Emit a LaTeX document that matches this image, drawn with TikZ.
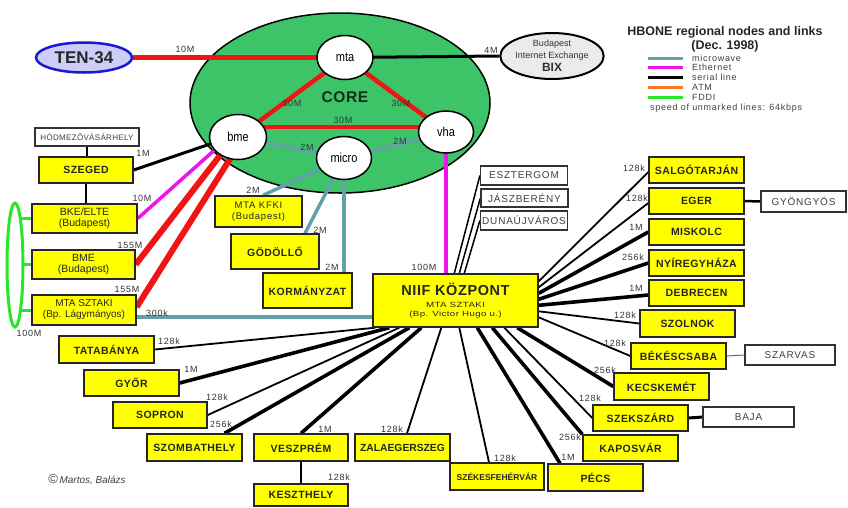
\documentclass[tikz,border=0pt]{standalone}
\usepackage{fontspec}
\setmainfont{Liberation Sans}
\newfontfamily\lsfont[LetterSpace=8]{Liberation Sans}
\newfontfamily\ysfont[LetterSpace=4]{Liberation Sans}
\newfontfamily\widefont[FakeStretch=1.3,LetterSpace=5]{Liberation Sans}
\newfontfamily\narrowfont[FakeStretch=0.85]{Liberation Sans}
\usetikzlibrary{shapes.geometric,calc}
\pgfdeclarelayer{back}
\pgfdeclarelayer{bg}
\pgfsetlayers{back,bg,main}
\definecolor{corecol}{RGB}{62,196,104}
\definecolor{coretext}{RGB}{20,45,25}
\definecolor{redcol}{RGB}{240,20,20}
\definecolor{ethcol}{RGB}{235,20,235}
\definecolor{mwcol}{RGB}{100,160,168}
\definecolor{atmcol}{RGB}{255,120,40}
\definecolor{fddicol}{RGB}{40,230,40}
\definecolor{tenblue}{RGB}{25,25,210}
\definecolor{tenfill}{RGB}{205,205,245}
\definecolor{boxyellow}{RGB}{255,255,0}
\begin{document}
\begin{tikzpicture}[x=1pt,y=-1pt,
  ybox/.style={rectangle, draw=black!85, line width=1.4pt, fill=boxyellow, minimum width=95pt, minimum height=26pt, inner sep=1pt, align=center, text=black!85, font=\ysfont\bfseries\fontsize{10.5}{11.5}\selectfont},
  ybox2/.style={ybox, font=\fontsize{10.5}{11}\selectfont},
  wbox/.style={rectangle, draw=black!80, line width=1.2pt, fill=white, minimum width=87pt, minimum height=19pt, inner sep=1pt, text=black!75, font=\lsfont\fontsize{10}{11}\selectfont},
  corenode/.style={ellipse, draw=black, line width=1.5pt, fill=white, inner sep=0pt, font=\narrowfont\fontsize{13}{14}\selectfont},
  lbl/.style={inner sep=0pt, font=\lsfont\fontsize{9}{10}\selectfont, text=black!80},
  redlink/.style={draw=redcol, line width=4.5pt},
  eth/.style={draw=ethcol, line width=3.5pt},
  mw/.style={draw=mwcol, line width=3.5pt},
  ser/.style={draw=black, line width=3pt},
  thinl/.style={draw=black, line width=1.8pt},
  thickl/.style={draw=black, line width=3.6pt},
  fddil/.style={draw=fddicol, line width=3pt}
]
\useasboundingbox (0,0) rectangle (848,507);

% ---------- core ----------
\begin{pgfonlayer}{back}
\node[ellipse, draw=black, line width=1.5pt, fill=corecol, minimum width=300pt, minimum height=180pt, inner sep=0pt] (coreell) at (340,103) {};
\end{pgfonlayer}
\node[font=\ysfont\bfseries\fontsize{15.5}{17}\selectfont, text=coretext] (corelbl) at (345,97) {CORE};

\node[corenode, minimum width=56pt, minimum height=44pt] (mta) at (345,57.5) {mta};
\node[corenode, minimum width=57pt, minimum height=45pt] (bme) at (238,137) {bme};
\node[corenode, minimum width=55pt, minimum height=42pt] (vha) at (446,132) {vha};
\node[corenode, minimum width=55pt, minimum height=43pt] (micro) at (344,158) {micro};

\node[ellipse, draw=tenblue, line width=2.5pt, fill=tenfill, minimum width=96pt, minimum height=30pt, inner sep=0pt, font=\bfseries\fontsize{17}{19}\selectfont, text=black!85] (ten) at (84,57.5) {TEN-34};
\node[ellipse, draw=black, line width=2pt, fill=black!8, minimum width=90pt, minimum height=46pt, inner sep=0pt, align=center, text=black!80, font=\fontsize{9}{11.5}\selectfont] (bix) at (552,56) {Budapest\\Internet Exchange\\[2pt]{\bfseries\fontsize{12}{12}\selectfont BIX}};

% ---------- legend ----------
\node[font=\bfseries\fontsize{12.5}{13.5}\selectfont, align=center, text=black!85] (legtitle) at (725,39.5) {HBONE regional nodes and links\\(Dec. 1998)};
\foreach \yy/\cc/\tt [count=\i] in {58/mwcol/microwave, 67.5/ethcol/Ethernet, 77/black/serial line, 87/atmcol/ATM, 97/fddicol/FDDI}{
  \draw[draw=\cc, line width=3pt] (648,\yy) -- (683,\yy);
  \node[anchor=west, inner sep=0pt, font=\lsfont\fontsize{9}{10}\selectfont, text=black!75] (leg\i) at (692,\yy) {\tt};
}
\node[anchor=west, inner sep=0pt, font=\lsfont\fontsize{9}{10}\selectfont, text=black!75] (legspeed) at (650,108) {speed of unmarked lines: 64kbps};

% ---------- left boxes ----------
\node[wbox, minimum width=104pt, minimum height=18pt, font=\ysfont\fontsize{8}{9}\selectfont] (hodm) at (87,137) {HÓDMEZŐVÁSÁRHELY};
\node[ybox, minimum width=94pt] (szeged) at (86,170) {SZEGED};
\node[ybox2, minimum width=105pt, minimum height=29pt] (bke) at (84.5,218.5) {BKE/ELTE\\(Budapest)};
\node[ybox2, minimum width=103pt, minimum height=29pt] (bmeb) at (83.5,264.5) {BME\\(Budapest)};
\node[ybox2, minimum width=104pt, minimum height=30pt, font=\fontsize{10}{11}\selectfont] (sztaki) at (84,310) {MTA SZTAKI\\(Bp. Lágymányos)};
\node[ellipse, draw=fddicol, line width=3pt, fill=white, minimum width=16pt, minimum height=124pt, inner sep=0pt] (fddi) at (15,265) {};

\node[ybox2, minimum width=87pt, minimum height=31pt, font=\lsfont\fontsize{9.5}{10.5}\selectfont] (kfki) at (258.5,211.5) {MTA KFKI\\(Budapest)};
\node[ybox, minimum width=88pt, minimum height=35pt] (godollo) at (275,251.5) {GÖDÖLLŐ};
\node[ybox, minimum width=89pt, minimum height=35pt] (korm) at (307.5,290.5) {KORMÁNYZAT};

% ---------- centre ----------
\node[ybox, minimum width=165pt, minimum height=53pt, font=\widefont\fontsize{7.5}{8.5}\selectfont] (niif) at (455.5,300.5) {{\ysfont\bfseries\fontsize{14.5}{16}\selectfont NIIF KÖZPONT}\\[4pt]MTA SZTAKI\\(Bp. Victor Hugo u.)};
\node[wbox] (eszt) at (524,175.5) {ESZTERGOM};
\node[wbox, minimum height=18pt] (jasz) at (524.5,198) {JÁSZBERÉNY};
\node[wbox] (duna) at (524,220.5) {DUNAÚJVÁROS};

% ---------- right boxes ----------
\node[ybox] (salgo) at (696.5,170) {SALGÓTARJÁN};
\node[ybox] (eger) at (696.5,201) {EGER};
\node[wbox, minimum width=85pt, minimum height=21pt] (gyongyos) at (803.5,201.5) {GYÖNGYÖS};
\node[ybox] (misk) at (696.5,232) {MISKOLC};
\node[ybox] (nyir) at (696.5,263) {NYÍREGYHÁZA};
\node[ybox] (debr) at (696.5,293) {DEBRECEN};
\node[ybox, minimum height=27pt] (szolnok) at (687.5,323.5) {SZOLNOK};
\node[ybox] (bekes) at (678.5,356) {BÉKÉSCSABA};
\node[wbox, minimum width=90pt, minimum height=20pt] (szarvas) at (790,355) {SZARVAS};
\node[ybox, minimum height=27pt] (kecsk) at (661.5,386.5) {KECSKEMÉT};
\node[ybox] (szeksz) at (640.5,418) {SZEKSZÁRD};
\node[wbox, minimum width=91pt, minimum height=20pt] (baja) at (748.5,417) {BAJA};
\node[ybox] (kapos) at (630.5,448) {KAPOSVÁR};
\node[ybox, minimum height=27pt] (pecs) at (595.5,477.5) {PÉCS};

% ---------- bottom boxes ----------
\node[ybox, minimum width=94pt, minimum height=27pt, font=\bfseries\fontsize{8.5}{9}\selectfont] (szekesf) at (497,476.5) {SZÉKESFEHÉRVÁR};
\node[ybox, minimum height=27pt, font=\bfseries\fontsize{10.3}{11}\selectfont] (zala) at (402.5,447.5) {ZALAEGERSZEG};
\node[ybox, minimum width=94pt, minimum height=27pt] (veszprem) at (301,447.5) {VESZPRÉM};
\node[ybox, minimum width=94pt, minimum height=22pt] (keszt) at (301,495) {KESZTHELY};
\node[ybox, minimum height=27pt] (szomb) at (194.5,447.5) {SZOMBATHELY};
\node[ybox, minimum width=94pt] (sopron) at (160,415) {SOPRON};
\node[ybox] (gyor) at (131.5,383) {GYŐR};
\node[ybox, minimum height=27pt] (tata) at (106.5,349.5) {TATABÁNYA};

\node[inner sep=0pt, font=\itshape\fontsize{10}{11}\selectfont, text=black!75] (copy) at (87,480) {{\upshape\fontsize{13}{13}\selectfont\textcopyright}\,Martos, Balázs};

% ---------- links ----------
\begin{pgfonlayer}{bg}
\draw[redlink] (ten.east) -- (mta.center);
\draw[ser] (mta.center) -- (bix.west);
\draw[redlink] (mta.center) -- (bme.center);
\draw[redlink] (mta.center) -- (vha.center);
\coordinate (bv) at ([yshift=10pt]bme.center);
\draw[redlink] (bv) -- (bv -| vha.center);
\draw[mw] (micro.center) -- (bme.center);
\draw[mw] (micro.center) -- (vha.center);

\draw[ser] (szeged.east) -- ([shift={(-22,5)}]bme.center);
\draw[eth] (bke.east) -- ([shift={(-20,10)}]bme.center);
\draw[redlink, line width=6pt] (bmeb.east) -- ([shift={(-13,12)}]bme.center);
\draw[redlink, line width=6pt] ([yshift=3pt]sztaki.east) -- ([shift={(-3,14)}]bme.center);
\coordinate (s300) at ([yshift=-7pt]sztaki.east);
\draw[mw] (s300) -- (s300 -| niif.west);

\draw[ser, line width=2pt] (hodm.south) -- (hodm.south |- szeged.north);
\draw[ser, line width=2pt] (szeged.south) -- (szeged.south |- bke.north);
\draw[fddil] (bke.west) -- (bke.west -| fddi.center);
\draw[fddil] (bmeb.west) -- (bmeb.west -| fddi.center);
\draw[fddil] (sztaki.west) -- (sztaki.west -| fddi.center);

\draw[mw] ([xshift=4.5pt]kfki.north) -- (micro.center);
\draw[mw] ([xshift=30pt]godollo.north) -- (micro.center);
\draw[mw] (korm.north -| micro.center) -- (micro.center);

\draw[eth, line width=4pt] (vha.center) -- (vha.center |- niif.north);
\draw[thinl, line width=1.5pt] ([xshift=82pt]niif.north west) -- (eszt.west);
\draw[thinl, line width=1.5pt] ([xshift=87pt]niif.north west) -- (jasz.west);
\draw[thinl, line width=1.5pt] ([xshift=92pt]niif.north west) -- (duna.west);

\draw[thinl] ([yshift=-8pt]niif.north east) -- ([yshift=-2pt]salgo.west);
\draw[thinl] ([yshift=-14pt]niif.north east) -- ([yshift=-2pt]eger.west);
\draw[thickl] ([yshift=-20pt]niif.north east) -- (misk.west);
\draw[thickl] ([yshift=-26pt]niif.north east) -- (nyir.west);
\draw[thickl] ([yshift=-32pt]niif.north east) -- ([yshift=-2pt]debr.west);
\draw[thinl] ([yshift=-38pt]niif.north east) -- (szolnok.west);
\draw[thinl] ([yshift=-44pt]niif.north east) -- (bekes.west);
\draw[thickl] ([xshift=145pt]niif.south west) -- (kecsk.west);
\draw[thinl] ([xshift=132pt]niif.south west) -- (szeksz.west);
\draw[thickl] ([xshift=120pt]niif.south west) -- (kapos.north west);
\draw[thickl] ([xshift=105pt]niif.south west) -- ([xshift=-35.5pt]pecs.north);
\draw[thinl] ([xshift=87pt]niif.south west) -- ([xshift=-8pt]szekesf.north);
\draw[thinl] ([xshift=69pt]niif.south west) -- ([xshift=4.5pt]zala.north);
\draw[thickl] ([xshift=49pt]niif.south west) -- (veszprem.north);
\draw[thickl] ([xshift=37pt]niif.south west) -- ([xshift=30pt]szomb.north);
\draw[thinl] ([xshift=27pt]niif.south west) -- (sopron.east);
\draw[thickl] ([xshift=17pt]niif.south west) -- (gyor.east);
\draw[thinl] ([xshift=3pt]niif.south west) -- (tata.east);

\draw[ser, line width=2.5pt] (eger.east) -- (gyongyos.west);
\draw[draw=black!60, line width=1pt] (bekes.east) -- (szarvas.west);
\draw[ser] (szeksz.east) -- (baja.west);
\draw[ser, line width=2pt] (veszprem.south) -- (keszt.north);
\end{pgfonlayer}

% ---------- labels ----------
\node[lbl] (l1) at (185,49) {10M};
\node[lbl] (l2) at (491,50) {4M};
\node[lbl] (l3) at (292,103) {30M};
\node[lbl] (l4) at (401,103) {30M};
\node[lbl] (l5) at (343,120) {30M};
\node[lbl] (l6) at (307,147) {2M};
\node[lbl] (l7) at (400,141) {2M};
\node[lbl] (l8) at (143,153) {1M};
\node[lbl] (l9) at (142,198) {10M};
\node[lbl] (l10) at (130,245) {155M};
\node[lbl] (l11) at (127,289) {155M};
\node[lbl] (l12) at (157,313) {300k};
\node[lbl] (l13) at (29,333) {100M};
\node[lbl] (l14) at (253,190) {2M};
\node[lbl] (l15) at (320,230) {2M};
\node[lbl] (l16) at (332,267) {2M};
\node[lbl] (l17) at (424,267) {100M};
\node[lbl] (l18) at (634,168) {128k};
\node[lbl] (l19) at (637,198) {128k};
\node[lbl] (l20) at (636,227) {1M};
\node[lbl] (l21) at (633,257) {256k};
\node[lbl] (l22) at (636,288) {1M};
\node[lbl] (l23) at (625,315) {128k};
\node[lbl] (l24) at (615,343) {128k};
\node[lbl] (l25) at (605,370) {256k};
\node[lbl] (l26) at (590,398) {128k};
\node[lbl] (l27) at (570,437) {256k};
\node[lbl] (l28) at (568,457) {1M};
\node[lbl] (l29) at (505,458) {128k};
\node[lbl] (l30) at (392,429) {128k};
\node[lbl] (l31) at (325,429) {1M};
\node[lbl] (l32) at (339,477) {128k};
\node[lbl] (l33) at (169,341) {128k};
\node[lbl] (l34) at (191,369) {1M};
\node[lbl] (l35) at (217,397) {128k};
\node[lbl] (l36) at (221,424) {256k};
\end{tikzpicture}
\end{document}
